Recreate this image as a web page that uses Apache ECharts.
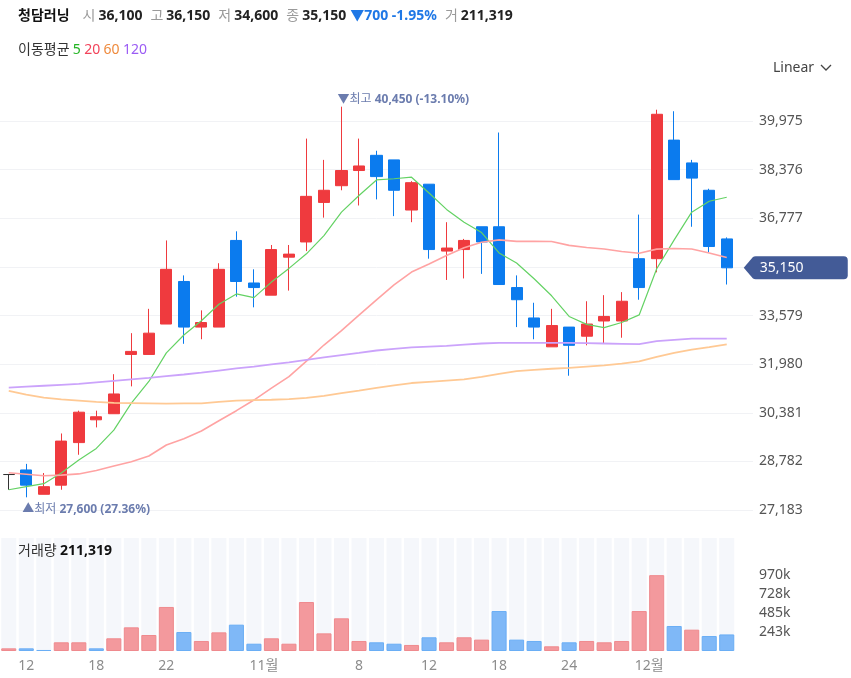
<!DOCTYPE html>
<html lang="ko">
<head>
<meta charset="utf-8">
<title>청담러닝 일봉</title>
<script src="https://cdn.jsdelivr.net/npm/echarts@6.0.0/dist/echarts.min.js"></script>
<style>
  html, body { margin: 0; padding: 0; background: #fff; }
  #chart { width: 851px; height: 678px; }
</style>
</head>
<body>
<div id="chart"></div>
<script>
// 거래일 (2021년 10월 ~ 12월)
const dates = [
  '10-08', '10-12', '10-13', '10-14', '10-15', '10-18', '10-19', '10-20', '10-21', '10-22',
  '10-25', '10-26', '10-27', '10-28', '10-29', '11-01', '11-02', '11-03', '11-04', '11-05',
  '11-08', '11-09', '11-10', '11-11', '11-12', '11-15', '11-16', '11-17', '11-18', '11-19',
  '11-22', '11-23', '11-24', '11-25', '11-26', '11-29', '11-30', '12-01', '12-02', '12-03',
  '12-06', '12-07'
]
// x축 눈금
const tickDates = ['10-12', '10-18', '10-22', '11-01', '11-08', '11-12', '11-18', '11-24', '12-01']
const tickLabels = ['12', '18', '22', '11월', '8', '12', '18', '24', '12월']

// 시가 / 종가 / 저가 / 고가
const opens = [
  28350, 28500, 27700, 28000, 29400, 30150, 30350, 32300, 32300, 33300,
  34700, 33200, 33200, 36050, 34650, 34250, 35500, 36000, 37300, 37850,
  38350, 38850, 38700, 37050, 37900, 35700, 35750, 36500, 36500, 34500,
  33500, 32550, 33200, 32900, 33400, 33400, 35450, 35450, 39350, 38600,
  37700, 36100
]
const closes = [
  28350, 28000, 27950, 29450, 30400, 30250, 31000, 32400, 33000, 35100,
  33200, 33350, 35100, 34700, 34500, 35750, 35600, 37500, 37700, 38350,
  38500, 38150, 37700, 37950, 35750, 35800, 36050, 36000, 34600, 34100,
  33200, 33250, 32600, 33300, 33550, 34050, 34500, 40200, 38050, 38100,
  35850, 35150
]
const lows = [
  27850, 27600, 27700, 27850, 29000, 29900, 30350, 31250, 32300, 33300,
  32650, 32800, 33200, 34200, 33850, 34250, 34400, 35700, 36800, 37700,
  37200, 37400, 36850, 36650, 35450, 34750, 34800, 34950, 34600, 33200,
  32800, 32550, 31600, 32600, 32650, 32850, 34100, 35000, 38050, 36500,
  35650, 34600
]
const highs = [
  28350, 28700, 28400, 29700, 30450, 30450, 31650, 33000, 33800, 36050,
  34900, 33750, 35300, 36350, 35100, 35900, 35900, 39400, 38700, 40450,
  39400, 39000, 38700, 38000, 37900, 36650, 36100, 36500, 39600, 34900,
  34000, 33800, 33200, 34050, 34250, 34350, 36900, 40350, 40300, 38700,
  37750, 36150
]

// 거래량, 전일 대비 (1 상승 / -1 하락)
const volumes = [
  34000, 34000, 13000, 111000, 111000, 34000, 162000, 302000, 204000, 562000,
  242000, 128000, 238000, 336000, 93000, 162000, 93000, 625000, 225000, 417000,
  128000, 111000, 93000, 77000, 175000, 111000, 175000, 145000, 510000, 145000,
  128000, 60000, 111000, 128000, 111000, 128000, 510000, 968000, 319000, 272000,
  191000, 211319
]
const volumeDir = [
  1, -1, -1, 1, 1, -1, 1, 1, 1, 1,
  -1, 1, 1, -1, -1, 1, 1, 1, 1, 1,
  1, -1, -1, 1, -1, 1, 1, 1, -1, -1,
  -1, 1, -1, 1, 1, 1, 1, 1, -1, 1,
  -1, -1
]

// 이동평균
const ma5 = [
  27850, 27950, 28050, 28400, 28830, 29210, 29810, 30700, 31410, 32350,
  32940, 33410, 33950, 34290, 34170, 34680, 35130, 35610, 36210, 36980,
  37530, 38040, 38080, 38130, 37610, 37070, 36650, 36310, 35640, 35310,
  34790, 34230, 33550, 33290, 33180, 33350, 33600, 35120, 36070, 36980,
  37340, 37470
]
const ma20 = [
  28410, 28360, 28310, 28330, 28370, 28480, 28630, 28770, 28960, 29320,
  29530, 29780, 30120, 30450, 30800, 31190, 31570, 32080, 32610, 33083,
  33590, 34098, 34585, 35010, 35278, 35555, 35808, 35988, 36068, 36018,
  36018, 36013, 35888, 35818, 35770, 35685, 35630, 35765, 35783, 35770,
  35638, 35488
]
const ma60 = [
  31100, 30980, 30880, 30820, 30780, 30740, 30710, 30700, 30690, 30680,
  30690, 30690, 30740, 30780, 30800, 30810, 30830, 30870, 30940, 31030,
  31110, 31200, 31280, 31360, 31400, 31440, 31480, 31560, 31660, 31750,
  31790, 31830, 31860, 31900, 31940, 32000, 32070, 32220, 32350, 32460,
  32540, 32630
]
const ma120 = [
  31210, 31240, 31270, 31300, 31330, 31380, 31430, 31480, 31530, 31590,
  31640, 31700, 31770, 31840, 31900, 31970, 32040, 32120, 32200, 32280,
  32350, 32430, 32480, 32530, 32560, 32580, 32620, 32660, 32680, 32680,
  32680, 32680, 32680, 32670, 32660, 32650, 32640, 32740, 32780, 32820,
  32820, 32820
]

// 축 눈금
const priceMin = 27183
const priceMax = 41163
const priceStep = 1599
const volumeMax = 1442000
const volumeStep = 242500
const volumeLabelMax = 970000

const RED = '#ef3a3e'
const BLUE = '#0b7bee'
const MARK = '#6b7cae'
const FONT = "'Noto Sans', 'Noto Sans CJK KR', sans-serif"

const fmt = (v) => v.toLocaleString('en-US')
const last = closes.length - 1
const lastClose = closes[last]
const change = lastClose - closes[last - 1]
const changePct = (change / closes[last - 1] * 100).toFixed(2) + '%'

// 최고 / 최저
const hiIdx = highs.indexOf(Math.max(...highs))
const loIdx = lows.indexOf(Math.min(...lows))
const pctFromLast = (v) => ((lastClose - v) / v * 100).toFixed(2) + '%'

// 빈 칸 하나 (오른쪽 여백)
const categories = [...dates, '']

const candles = dates.map((d, i) => [opens[i], closes[i], lows[i], highs[i]])

const markRich = {
  a: { color: MARK, fontSize: 12, fontFamily: FONT },
  b: { color: MARK, fontSize: 12, fontWeight: 'bold', fontFamily: FONT },
}

const maLine = (name, data, color, width) => ({
  name,
  type: 'line',
  xAxisIndex: 0,
  yAxisIndex: 0,
  data,
  showSymbol: false,
  silent: true,
  lineStyle: { color, width },
  z: 3,
})

const header = [
  '{name|청담러닝}',
  '{k|시}{v|' + fmt(opens[last]) + '}',
  '{k|고}{v|' + fmt(highs[last]) + '}',
  '{k|저}{v|' + fmt(lows[last]) + '}',
  '{k|종}{v|' + fmt(lastClose) + '}',
  '{chg|' + (change < 0 ? '▼' : '▲') + fmt(Math.abs(change)) + ' ' + changePct + '}',
  '{k|거}{v|' + fmt(volumes[last]) + '}',
].join('')

const chart = echarts.init(document.getElementById('chart'))

const option = {
  animation: false,
  textStyle: { fontFamily: FONT },
  grid: [
    { left: -2, right: 98, top: 85, height: 425 },
    { left: -2, right: 98, top: 538, height: 113 },
  ],
  xAxis: [
    {
      type: 'category',
      gridIndex: 0,
      data: categories,
      axisLine: { show: false },
      axisTick: { show: false },
      axisLabel: { show: false },
      splitLine: { show: false },
    },
    {
      type: 'category',
      gridIndex: 1,
      data: categories,
      axisLine: { show: false },
      axisTick: { show: false },
      splitLine: { show: false },
      axisLabel: {
        interval: (idx, value) => tickDates.includes(value),
        color: '#8c8c8c',
        fontSize: 14,
        margin: 8,
        formatter: (value) => {
          const t = tickLabels[tickDates.indexOf(value)] || ''
          return t.endsWith('월') ? '{m|' + t + '}' : t
        },
        rich: {
          m: { color: '#8c8c8c', fontSize: 14, padding: [0, 15, 0, 0], fontFamily: FONT },
        },
      },
    },
  ],
  yAxis: [
    {
      type: 'value',
      gridIndex: 0,
      position: 'right',
      min: priceMin,
      max: priceMax,
      interval: priceStep,
      axisLine: { show: false },
      axisTick: { show: false },
      splitLine: { showMaxLine: false, lineStyle: { color: '#f1f2f5', width: 1 } },
      axisLabel: {
        margin: 6,
        color: '#555',
        fontSize: 14,
        formatter: (v) =>
          v % priceStep === 0 && Math.abs(v - lastClose) > priceStep / 3 ? fmt(v) : '',
      },
    },
    {
      type: 'value',
      gridIndex: 1,
      position: 'right',
      min: 0,
      max: volumeMax,
      interval: volumeStep,
      axisLine: { show: false },
      axisTick: { show: false },
      splitLine: { show: false },
      axisLabel: {
        margin: 6,
        color: '#555',
        fontSize: 14,
        formatter: (v) => (v > 0 && v <= volumeLabelMax + 1 ? Math.round(v / 1000) + 'k' : ''),
      },
    },
  ],
  series: [
    {
      name: '청담러닝',
      type: 'candlestick',
      xAxisIndex: 0,
      yAxisIndex: 0,
      data: candles,
      barWidth: '66%',
      itemStyle: {
        color: RED,
        color0: BLUE,
        borderColor: RED,
        borderColor0: BLUE,
        borderColorDoji: '#333',
        borderWidth: 1,
      },
      z: 2,
      markPoint: {
        symbol: 'circle',
        symbolSize: 1,
        itemStyle: { color: 'rgba(0,0,0,0)' },
        data: [
          {
            coord: [dates[hiIdx], highs[hiIdx]],
            label: {
              show: true,
              position: 'top',
              distance: 1,
              align: 'left',
              offset: [-4, 0],
              formatter: '{a|▼최고 }{b|' + fmt(highs[hiIdx]) + ' (' + pctFromLast(highs[hiIdx]) + ')}',
              rich: markRich,
            },
          },
          {
            coord: [dates[loIdx], lows[loIdx]],
            label: {
              show: true,
              position: 'bottom',
              distance: 6,
              align: 'left',
              offset: [-4, 0],
              formatter: '{a|▲최저 }{b|' + fmt(lows[loIdx]) + ' (' + pctFromLast(lows[loIdx]) + ')}',
              rich: markRich,
            },
          },
          {
            // 현재가 태그
            coord: [dates[last], lastClose],
            symbol: 'path://M0,11.5 L9,1 Q10,0 12,0 L100,0 Q104,0 104,4 L104,19 Q104,23 100,23 L12,23 Q10,23 9,22 Z',
            symbolSize: [104, 23],
            symbolOffset: [69, 0],
            symbolKeepAspect: false,
            itemStyle: { color: '#435b97' },
            label: {
              show: true,
              position: 'inside',
              offset: [-14, 0],
              color: '#fff',
              fontSize: 14,
              formatter: fmt(lastClose),
            },
          },
        ],
      },
    },
    maLine('MA5', ma5, '#64d264', 1.2),
    maLine('MA20', ma20, '#ffa3a3', 1.6),
    maLine('MA60', ma60, '#ffc994', 1.8),
    maLine('MA120', ma120, '#cba3fb', 1.8),
    {
      name: '거래량',
      type: 'bar',
      xAxisIndex: 1,
      yAxisIndex: 1,
      barWidth: '86%',
      showBackground: true,
      backgroundStyle: { color: '#f5f7fb' },
      data: volumes.map((v, i) => ({
        value: v,
        itemStyle:
          volumeDir[i] > 0
            ? { color: '#f3999d', borderColor: '#ef8a8e', borderWidth: 1 }
            : { color: '#7fb8f7', borderColor: '#6aaef5', borderWidth: 1 },
      })),
    },
  ],
  graphic: [
    {
      type: 'text',
      x: 18,
      y: 16,
      z: 100,
      style: {
        text: header,
        verticalAlign: 'middle',
        rich: {
          name: { fontSize: 14, fontWeight: 'bold', fill: '#111', padding: [0, 5, 0, 0], fontFamily: FONT },
          k: { fontSize: 14, fill: '#9a9a9a', padding: [0, 3, 0, 8], fontFamily: FONT },
          v: { fontSize: 14, fontWeight: 'bold', fill: '#222', fontFamily: FONT },
          chg: { fontSize: 14, fontWeight: 'bold', fill: '#1f78e6', padding: [0, 0, 0, 4], fontFamily: FONT },
        },
      },
    },
    {
      type: 'text',
      x: 18,
      y: 50,
      z: 100,
      style: {
        text: '{t|이동평균} {a|5} {b|20} {c|60} {d|120}',
        verticalAlign: 'middle',
        rich: {
          t: { fontSize: 14, fill: '#333', fontFamily: FONT },
          a: { fontSize: 14, fill: '#22b422', fontFamily: FONT },
          b: { fontSize: 14, fill: '#f2435a', fontFamily: FONT },
          c: { fontSize: 14, fill: '#ef8a3c', fontFamily: FONT },
          d: { fontSize: 14, fill: '#9b5cf4', fontFamily: FONT },
        },
      },
    },
    {
      type: 'text',
      x: 773,
      y: 68,
      z: 100,
      style: { text: 'Linear', fontSize: 14, fill: '#444', fontFamily: FONT, verticalAlign: 'middle' },
    },
    {
      type: 'polyline',
      z: 100,
      shape: { points: [[821, 65], [826, 70], [831, 65]] },
      style: { stroke: '#444', lineWidth: 1.3, fill: null },
    },
    {
      type: 'text',
      x: 18,
      y: 551,
      z: 100,
      style: {
        text: '{t|거래량} {v|' + fmt(volumes[last]) + '}',
        verticalAlign: 'middle',
        rich: {
          t: { fontSize: 14, fill: '#333', fontFamily: FONT },
          v: { fontSize: 14, fontWeight: 'bold', fill: '#111', fontFamily: FONT },
        },
      },
    },
  ],
}

chart.setOption(option)
</script>
</body>
</html>
